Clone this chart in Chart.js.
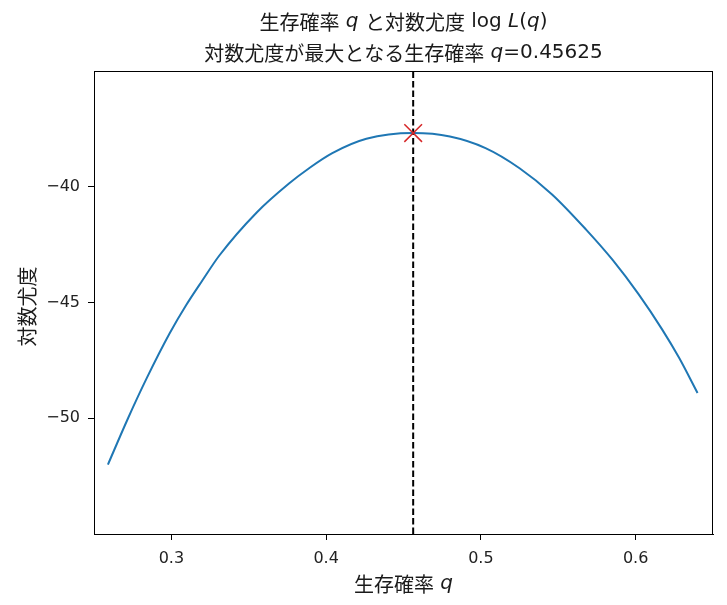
<!DOCTYPE html>
<html>
<head>
<meta charset="utf-8">
<script src="https://cdn.jsdelivr.net/npm/chart.js@4.4.1/dist/chart.umd.min.js"></script>
<style>
  html, body { margin: 0; padding: 0; background: #fff; }
  #wrap { width: 727px; height: 605px; }
</style>
</head>
<body>
<div id="wrap"><canvas id="llChart" width="727" height="605"></canvas></div>
<script>
// values
const qValues = [0.259, 0.272, 0.284, 0.299, 0.3095, 0.320, 0.331, 0.355, 0.376, 0.389, 0.404, 0.426,
                 0.45625, 0.480, 0.503, 0.525, 0.546, 0.568, 0.585, 0.602, 0.617, 0.628, 0.640];
const logLValues = [-52.00, -50.00, -48.28, -46.32, -45.12, -44.05, -42.97, -41.12, -39.86, -39.20, -38.55, -37.93,
                    -37.68, -37.83, -38.33, -39.20, -40.33, -41.85, -43.15, -44.65, -46.15, -47.38, -48.91];
const qBest = 0.45625;
const logLBest = -37.68;
const xTickValues = [0.3, 0.4, 0.5, 0.6];
const yTickValues = [-50, -45, -40];
const xRange = [0.25, 0.65];
const yRange = [-55, -35];

const jp = "'Noto Sans CJK JP', sans-serif";
const dv = "'DejaVu Sans', sans-serif";

// draw a line of text made of pieces with different fonts, centred on cx
function drawPieces(ctx, pieces, cx, cy, size) {
    const fontOf = (kind) => kind === 'it' ? 'italic ' + size + 'px ' + dv
                          : kind === 'dv' ? size + 'px ' + dv
                          : size + 'px ' + jp;
    let total = 0;
    pieces.forEach(p => { ctx.font = fontOf(p[1]); total += ctx.measureText(p[0]).width; });
    let x = cx - total / 2;
    ctx.textBaseline = 'middle';
    ctx.textAlign = 'left';
    pieces.forEach(p => {
        ctx.font = fontOf(p[1]);
        ctx.fillText(p[0], x, cy);
        x += ctx.measureText(p[0]).width;
    });
}

const textPlugin = {
    id: 'textPlugin',
    afterDraw(chart) {
        const ctx = chart.ctx;
        const a = chart.chartArea;
        const cx = (a.left + a.right) / 2;
        ctx.save();
        // frame
        ctx.strokeStyle = '#000';
        ctx.lineWidth = 1;
        ctx.strokeRect(a.left + 0.5, a.top + 0.5, a.right - a.left - 1, a.bottom - a.top);
        ctx.fillStyle = '#1a1a1a';
        drawPieces(ctx, [['生存確率', 'jp'], [' ', 'dv'], ['q', 'it'], [' ', 'dv'], ['と対数尤度', 'jp'], [' ', 'dv'],
                         ['log', 'dv'], [' ', 'dv'], ['L', 'it'], ['(', 'dv'], ['q', 'it'], [')', 'dv']], cx, 22, 20);
        drawPieces(ctx, [['対数尤度が最大となる生存確率', 'jp'], [' ', 'dv'], ['q', 'it'], ['=0.45625', 'dv']], cx, 53, 20);
        drawPieces(ctx, [['生存確率', 'jp'], [' ', 'dv'], ['q', 'it']], cx, 584, 20);
        ctx.translate(27, (a.top + a.bottom) / 2 + 4);
        ctx.rotate(-Math.PI / 2);
        drawPieces(ctx, [['対数尤度', 'jp']], 0, 0, 20);
        ctx.restore();
    }
};

document.addEventListener('DOMContentLoaded', () => {
    const ctx = document.getElementById('llChart').getContext('2d');
    new Chart(ctx, {
        type: 'scatter',
        data: {
            datasets: [{
                label: 'max',
                data: [{ x: qBest, y: logLBest }],
                pointStyle: 'crossRot',
                pointRadius: 12.5,
                borderColor: '#d62728',
                backgroundColor: '#d62728',
                borderWidth: 1.5,
                order: 0
            }, {
                label: 'qBest',
                type: 'line',
                data: [{ x: qBest, y: yRange[0] }, { x: qBest, y: yRange[1] }],
                borderColor: '#000',
                borderWidth: 2,
                borderDash: [6.5, 3],
                pointRadius: 0,
                order: 1
            }, {
                label: 'logL',
                type: 'line',
                data: qValues.map((q, i) => ({ x: q, y: logLValues[i] })),
                borderColor: '#1f77b4',
                borderWidth: 2,
                pointRadius: 0,
                cubicInterpolationMode: 'monotone',
                order: 2
            }]
        },
        options: {
            responsive: false,
            animation: false,
            layout: { padding: { top: 71, right: 14, left: 0, bottom: 0 } },
            plugins: {
                legend: { display: false },
                tooltip: { enabled: false }
            },
            scales: {
                x: {
                    type: 'linear',
                    min: xRange[0],
                    max: xRange[1],
                    afterFit: (s) => { s.height = 71; },
                    afterBuildTicks: (s) => { s.ticks = xTickValues.map(v => ({ value: v })); },
                    grid: { drawOnChartArea: false, drawTicks: true, tickLength: 6, tickColor: '#000' },
                    border: { color: '#000', width: 1 },
                    ticks: {
                        padding: 9,
                        color: '#222',
                        font: { family: 'DejaVu Sans', size: 16 },
                        callback: (v) => v.toFixed(1)
                    }
                },
                y: {
                    type: 'linear',
                    min: yRange[0],
                    max: yRange[1],
                    afterFit: (s) => { s.width = 94; },
                    afterBuildTicks: (s) => { s.ticks = yTickValues.map(v => ({ value: v })); },
                    grid: { drawOnChartArea: false, drawTicks: true, tickLength: 6, tickColor: '#000' },
                    border: { color: '#000', width: 1 },
                    ticks: {
                        padding: 8,
                        color: '#222',
                        font: { family: 'DejaVu Sans', size: 16 },
                        callback: (v) => String(v).replace('-', '\u2212')
                    }
                }
            }
        },
        plugins: [textPlugin]
    });
});
</script>
</body>
</html>
